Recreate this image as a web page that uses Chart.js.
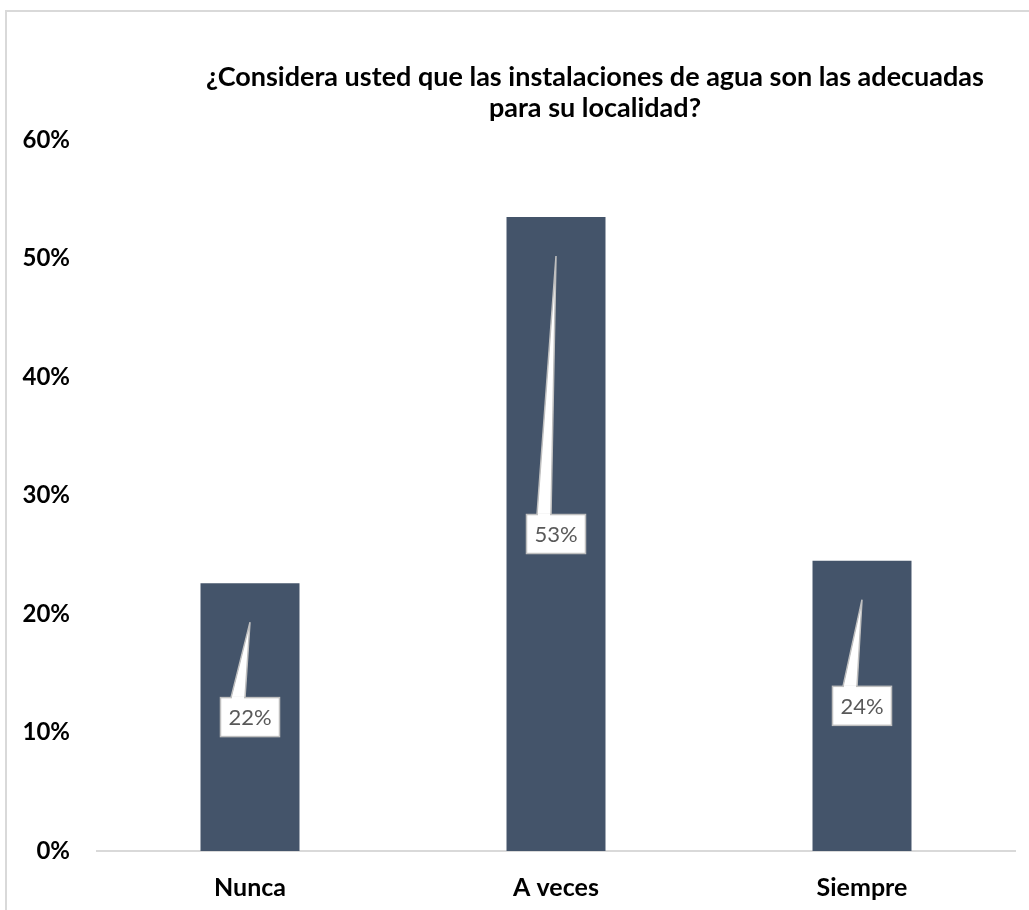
<!DOCTYPE html>
<html>
<head>
<meta charset="utf-8">
<script src="https://cdn.jsdelivr.net/npm/chart.js@4/dist/chart.umd.min.js"></script>
<style>
  html, body { margin: 0; padding: 0; background: #ffffff; }
  #wrap { width: 1029px; height: 910px; position: relative; }
</style>
</head>
<body>
<div id="wrap"><canvas id="c" width="1029" height="910"></canvas></div>
<script>
const titleLines = ['¿Considera usted que las instalaciones de agua son las adecuadas', 'para su localidad?'];
const categories = ['Nunca', 'A veces', 'Siempre'];
const values = [22.6, 53.5, 24.5];
const valueLabels = ['22%', '53%', '24%'];
const yTicks = [0, 10, 20, 30, 40, 50, 60];

const FONT = 'Lato, "Noto Sans", sans-serif';

const framePlugin = {
  id: 'frame',
  beforeDraw(chart) {
    const ctx = chart.ctx;
    ctx.save();
    ctx.fillStyle = '#ffffff';
    ctx.fillRect(0, 0, chart.width, chart.height);
    ctx.strokeStyle = '#d9d9d9';
    ctx.lineWidth = 2;
    ctx.strokeRect(6, 11, chart.width + 50, chart.height + 50);
    ctx.restore();
  }
};

const titlePlugin = {
  id: 'customTitle',
  afterDraw(chart) {
    const ctx = chart.ctx;
    ctx.save();
    ctx.fillStyle = '#000000';
    ctx.font = 'bold 27px ' + FONT;
    ctx.textAlign = 'center';
    ctx.textBaseline = 'middle';
    ctx.fillText(titleLines[0], 595, 77);
    ctx.fillText(titleLines[1], 595, 108);
    ctx.restore();
  }
};

const calloutPlugin = {
  id: 'callouts',
  afterDatasetsDraw(chart) {
    const ctx = chart.ctx;
    const meta = chart.getDatasetMeta(0);
    ctx.save();
    meta.data.forEach((bar, i) => {
      const cx = bar.x;
      const cy = (bar.y + bar.base) / 2;
      const w = 59, h = 39;
      const left = cx - w / 2, top = cy - h / 2;
      const tipX = cx, tipY = bar.y + 39;
      // pointer wedge
      ctx.beginPath();
      ctx.moveTo(cx - 19, top + 1);
      ctx.lineTo(tipX, tipY);
      ctx.lineTo(cx - 5, top + 1);
      ctx.closePath();
      ctx.fillStyle = '#ffffff';
      ctx.fill();
      ctx.beginPath();
      ctx.moveTo(cx - 19, top);
      ctx.lineTo(tipX, tipY);
      ctx.lineTo(cx - 5, top);
      ctx.strokeStyle = '#bfbfbf';
      ctx.lineWidth = 1.5;
      ctx.stroke();
      // box
      ctx.fillStyle = '#ffffff';
      ctx.fillRect(left, top, w, h);
      ctx.strokeStyle = '#bfbfbf';
      ctx.lineWidth = 1.5;
      ctx.strokeRect(left, top, w, h);
      // cover the joint
      ctx.fillStyle = '#ffffff';
      ctx.fillRect(cx - 18, top - 1, 12, 3);
      // text
      ctx.fillStyle = '#595959';
      ctx.font = '22px ' + FONT;
      ctx.textAlign = 'center';
      ctx.textBaseline = 'middle';
      ctx.fillText(valueLabels[i], cx, cy + 1);
    });
    ctx.restore();
  }
};

new Chart(document.getElementById('c'), {
  type: 'bar',
  data: {
    labels: categories,
    datasets: [{
      data: values,
      backgroundColor: '#44546a',
      borderWidth: 0,
      categoryPercentage: 0.5,
      barPercentage: 0.647
    }]
  },
  options: {
    responsive: false,
    devicePixelRatio: 1,
    animation: false,
    layout: { padding: { top: 140, right: 14, bottom: 0, left: 0 } },
    plugins: {
      legend: { display: false },
      title: { display: false },
      tooltip: { enabled: false }
    },
    scales: {
      x: {
        grid: { display: false, drawTicks: false },
        border: { display: true, color: '#d9d9d9', width: 2 },
        ticks: {
          color: '#000000',
          font: { family: FONT, size: 25, weight: 'bold' },
          padding: 22
        },
        afterFit(scale) { scale.height = 59; }
      },
      y: {
        min: 0,
        max: 60,
        afterBuildTicks(scale) { scale.ticks = yTicks.map(v => ({ value: v })); },
        grid: { display: false, drawTicks: false },
        border: { display: false },
        ticks: {
          color: '#000000',
          font: { family: FONT, size: 24, weight: 'bold' },
          padding: 27,
          callback: v => v + '%'
        },
        afterFit(scale) { scale.width = 97; }
      }
    }
  },
  plugins: [framePlugin, titlePlugin, calloutPlugin]
});
</script>
</body>
</html>
